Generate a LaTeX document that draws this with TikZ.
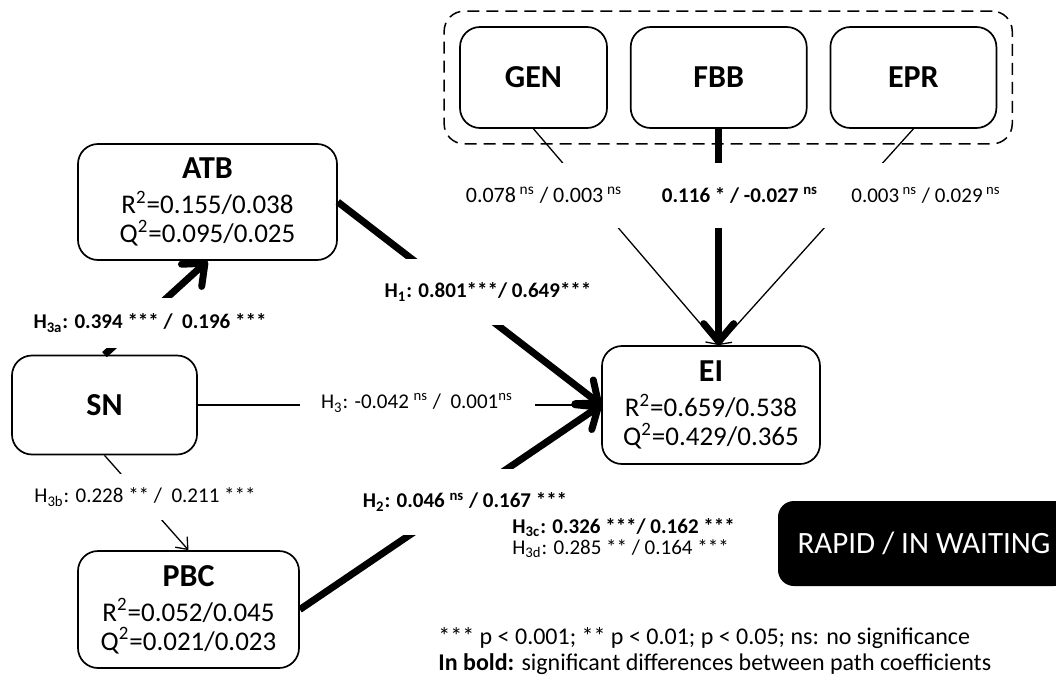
\documentclass[tikz,border=0pt]{standalone}
\usepackage{fontspec}
\setmainfont{Carlito}
\usetikzlibrary{arrows.meta,positioning,fit}

\newcommand{\vname}[1]{{\fontsize{16}{18}\selectfont\bfseries #1}}

\begin{document}
\begin{tikzpicture}[
    x=0.5pt, y=-0.5pt,
    node distance=11pt,
    box/.style={draw, line width=0.85pt, rounded corners=10pt, align=center, inner sep=0pt, font=\fontsize{13.5}{14.5}\selectfont},
    factor/.style={box, minimum height=50.5pt, font=\fontsize{16}{18}\selectfont\bfseries},
    group/.style={draw, line width=0.75pt, dash pattern=on 6pt off 3.5pt, rounded corners=10pt},
    thinarrow/.style={line width=0.65pt, -{Straight Barb[length=5pt, width=8pt]}},
    thickarrow/.style={line width=3.5pt, -{Straight Barb[length=9pt, width=15pt, round]}},
    coef/.style={fill=white, inner sep=1pt, font=\fontsize{10.5}{12}\selectfont},
    coefb/.style={coef, font=\fontsize{10.5}{12}\selectfont\bfseries}
]
\useasboundingbox (0,0) rectangle (1056,686);

% constructs
\node (ATB) [box, minimum width=129.5pt, minimum height=58pt] at (207.5,202) {\vname{ATB}\\[3pt]R\textsuperscript{2}=0.155/0.038\\Q\textsuperscript{2}=0.095/0.025};
\node (SN) [box, minimum width=92.5pt, minimum height=49.5pt] at (104.5,405) {\vname{SN}};
\node (PBC) [box, minimum width=110.5pt, minimum height=58.5pt] at (188.5,609.5) {\vname{PBC}\\[3pt]R\textsuperscript{2}=0.052/0.045\\Q\textsuperscript{2}=0.021/0.023};
\node (EI) [box, minimum width=109pt, minimum height=59pt] at (711,405) {\vname{EI}\\[3pt]R\textsuperscript{2}=0.659/0.538\\Q\textsuperscript{2}=0.429/0.365};

% control variables
\node (GEN) [factor, minimum width=73.5pt] at (533.5,77.5) {GEN};
\node (FBB) [factor, minimum width=88pt, right=of GEN] {FBB};
\node (EPR) [factor, minimum width=83pt, right=of FBB] {EPR};
\node (controls) [group, fit=(GEN)(FBB)(EPR), inner xsep=7.5pt, inner ysep=7.5pt] {};

\coordinate (EIin) at (FBB.south |- EI.north);

% paths
\draw [thickarrow] (SN.north) -- (ATB.south);
\draw [thinarrow] (SN.south) -- (PBC.north);
\draw [thinarrow] (SN.east) -- (EI.west);
\draw [thickarrow] (ATB.east) -- (EI.west);
\draw [thickarrow] (PBC.east) -- (EI.west);
\draw [thinarrow] (GEN.south) -- (EIin);
\draw [thinarrow] (EPR.south) -- (EIin);
\draw [thickarrow] (FBB.south) -- (EIin);

% coefficients
\node (lH3a) [coefb, minimum height=25pt] at (150,323) {H\textsubscript{3a}: 0.394 *** /~ 0.196 ***};
\node (lH3b) [coef, minimum height=23pt] at (145,497) {H\textsubscript{3b}: 0.228 ** /~ 0.211 ***};
\node (lH3) [coef, minimum width=117.5pt] at (417,403) {H\textsubscript{3}: -0.042 \textsuperscript{ns} /~ 0.001\textsuperscript{ns}};
\node (lH1) [coefb, minimum height=33pt] at (488,292) {H\textsubscript{1}: 0.801***/ 0.649***};
\node (lH2) [coefb, minimum height=33pt] at (465,502) {H\textsubscript{2}: 0.046 \textsuperscript{ns} / 0.167 ***};
\node (lGEN) [coef, minimum height=32.5pt, inner xsep=5pt, font=\fontsize{11}{12}\selectfont] at (544,195) {0.078\,\textsuperscript{ns} / 0.003\,\textsuperscript{ns}};
\node (lFBB) [coefb, minimum height=32.5pt] at (740,195) {0.116 * / -0.027 \textsuperscript{ns}};
\node (lEPR) [coef, minimum height=32.5pt, minimum width=106pt] at (926,195) {0.003\,\textsuperscript{ns} / 0.029\,\textsuperscript{ns}};

\node (lH3cd) [anchor=west, align=left, inner sep=0pt, font=\fontsize{10.5}{10.5}\selectfont] at (512,538) {\textbf{H\textsubscript{3c}: 0.326 ***/ 0.162 ***}\\H\textsubscript{3d}: 0.285 ** / 0.164 ***};

\node (mode) [fill=black, text=white, rounded corners=8pt, minimum width=146pt, minimum height=42.5pt, font=\fontsize{15.5}{15.5}\selectfont] at (924,543.5) {RAPID / IN WAITING};

\node (legend) [anchor=west, align=left, inner sep=0pt, font=\fontsize{12}{13}\selectfont] at (438,651) {*** p < 0.001; ** p < 0.01; p < 0.05; ns: no significance\\\textbf{In bold:} significant differences between path coefficients};

\end{tikzpicture}
\end{document}
